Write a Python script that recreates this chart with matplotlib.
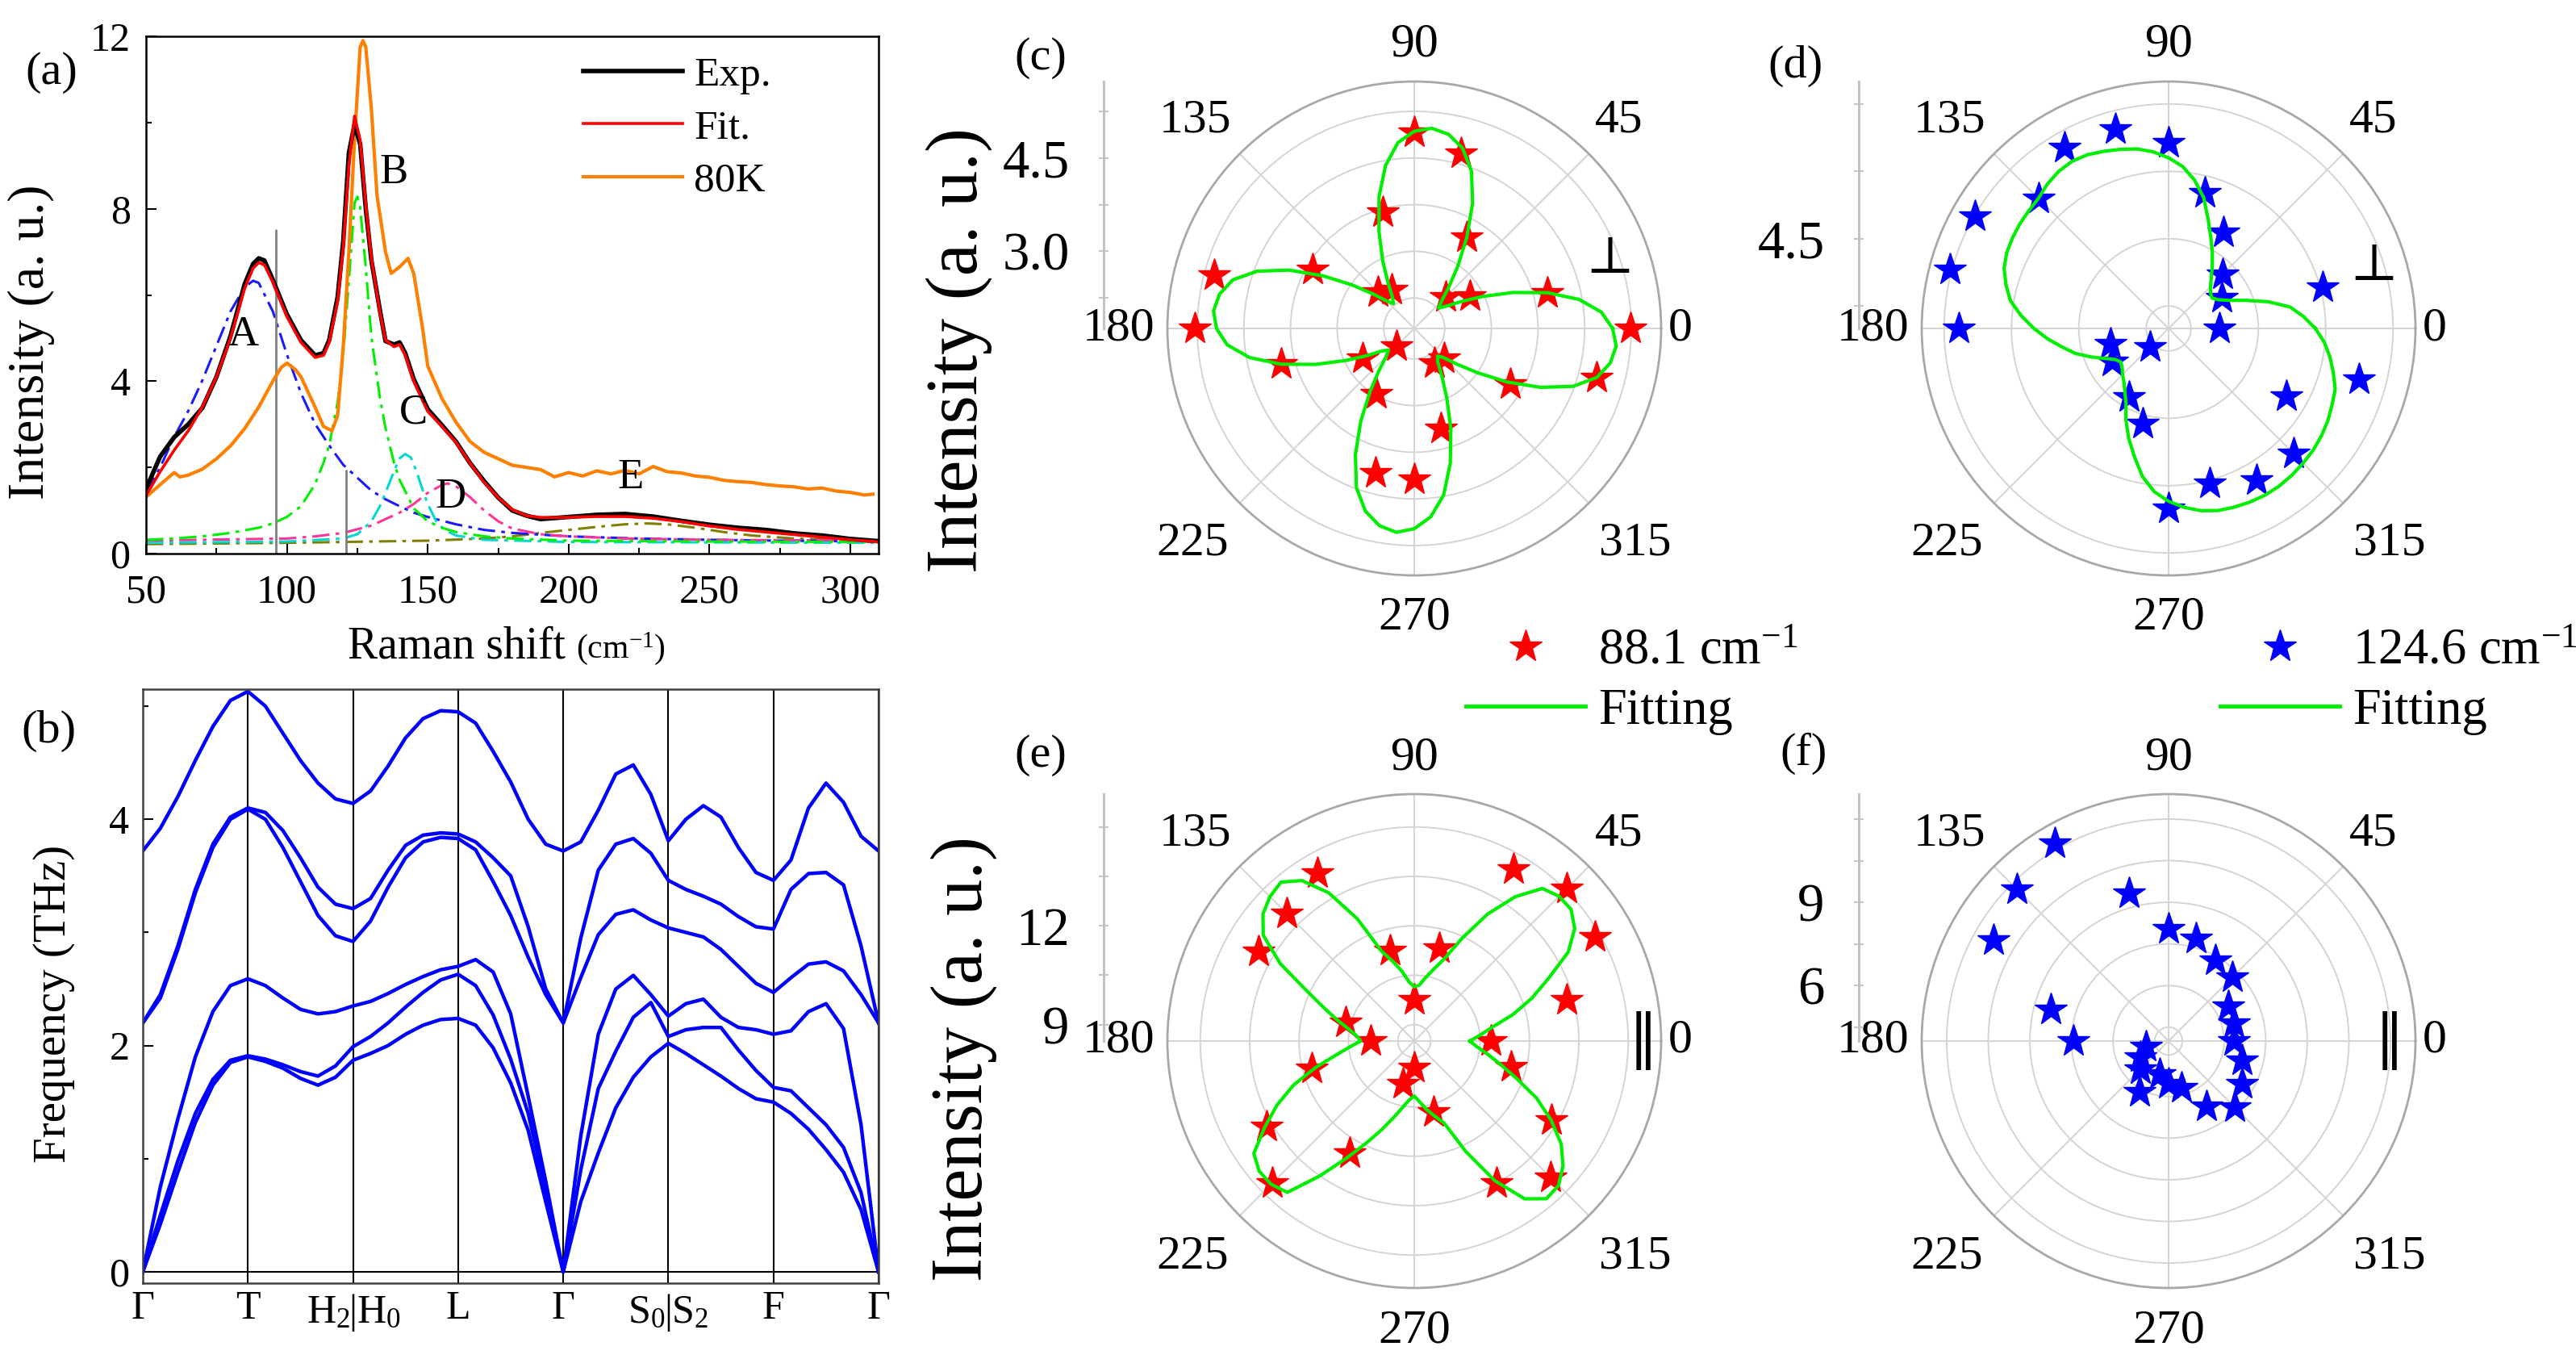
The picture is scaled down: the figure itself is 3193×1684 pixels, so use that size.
import numpy as np
import matplotlib
matplotlib.use('Agg')
import matplotlib.pyplot as plt
from matplotlib.lines import Line2D
from matplotlib.transforms import blended_transform_factory, offset_copy

plt.rcParams['font.family'] = ['Liberation Serif', 'DejaVu Serif']
plt.rcParams['mathtext.fontset'] = 'custom'
plt.rcParams['mathtext.rm'] = 'Liberation Serif'
plt.rcParams['mathtext.it'] = 'Liberation Serif:italic'

# --- (a) Raman spectra ---
raman_x = [50, 55, 60, 65, 70, 75, 80, 85, 88, 90, 92, 95, 100, 105, 110, 113, 115, 118, 120,
           122, 124, 126, 128, 130, 133, 135, 138, 140, 142, 145, 150, 155, 160, 165, 170, 175,
           180, 185, 190, 200, 210, 220, 230, 240, 250, 260, 270, 280, 290, 300, 310]
exp_y = [1.50, 2.25, 2.70, 3.00, 3.38, 4.10, 5.05, 6.25, 6.72, 6.85, 6.80, 6.35, 5.55, 4.95, 4.60,
         4.65, 4.95, 5.95, 7.25, 9.30, 9.95, 9.50, 8.00, 6.80, 5.65, 4.93, 4.85, 4.90, 4.65, 4.05,
         3.35, 2.98, 2.60, 2.10, 1.68, 1.30, 1.00, 0.88, 0.80, 0.85, 0.90, 0.92, 0.86, 0.76, 0.67,
         0.60, 0.55, 0.47, 0.42, 0.34, 0.29]
fit_y = [1.35, 1.90, 2.40, 2.85, 3.40, 4.10, 5.00, 6.15, 6.62, 6.75, 6.70, 6.30, 5.50, 4.90, 4.55,
         4.60, 4.90, 5.85, 7.10, 9.00, 10.15, 9.60, 8.10, 6.85, 5.60, 4.95, 4.80, 4.85, 4.60, 4.00,
         3.30, 2.95, 2.58, 2.10, 1.65, 1.30, 1.02, 0.88, 0.84, 0.84, 0.86, 0.86, 0.82, 0.74, 0.64,
         0.56, 0.50, 0.44, 0.38, 0.32, 0.27]
k80_x = [50, 55, 60, 62, 65, 70, 75, 80, 85, 90, 95, 98, 100, 103, 105, 110, 113, 116, 118, 120,
         122, 124, 126, 127, 128, 130, 132, 135, 137, 140, 143, 145, 148, 150, 155, 160, 165, 170,
         175, 180, 185, 190, 195, 200, 205, 210, 215, 220, 225, 230, 235, 240, 245, 250, 255, 260,
         265, 270, 275, 280, 285, 290, 295, 300, 305, 308]
k80_y = [1.31, 1.60, 1.88, 1.78, 1.82, 1.96, 2.20, 2.50, 2.90, 3.40, 4.00, 4.32, 4.42, 4.27, 4.10,
         3.40, 2.95, 2.85, 3.20, 4.80, 7.00, 9.60, 11.75, 11.90, 11.75, 10.30, 8.30, 7.00, 6.50,
         6.65, 6.85, 6.50, 5.30, 4.35, 3.60, 3.05, 2.60, 2.35, 2.20, 2.05, 2.00, 1.95, 1.78, 1.88,
         1.80, 1.92, 1.85, 1.93, 1.85, 2.02, 1.90, 1.87, 1.80, 1.77, 1.70, 1.67, 1.65, 1.60, 1.57,
         1.55, 1.50, 1.52, 1.45, 1.42, 1.36, 1.38]
pkA_x = [50, 55, 60, 65, 70, 75, 80, 85, 88, 90, 95, 100, 105, 110, 115, 120, 125, 130, 135, 140,
         145, 150, 160, 170, 180, 200, 225, 250, 275, 310]
pkA_y = [1.41, 2.00, 2.71, 3.31, 4.02, 4.82, 5.62, 6.18, 6.33, 6.28, 5.62, 4.62, 3.72, 3.01, 2.51,
         2.06, 1.76, 1.46, 1.26, 1.10, 0.95, 0.85, 0.68, 0.55, 0.48, 0.40, 0.35, 0.32, 0.30, 0.28]
pkB_x = [50, 60, 70, 80, 90, 95, 100, 105, 110, 113, 115, 118, 120, 122, 124, 125, 126, 128, 130,
         133, 135, 138, 140, 145, 150, 155, 160, 170, 180, 200, 250, 310]
pkB_y = [0.32, 0.35, 0.40, 0.48, 0.60, 0.70, 0.85, 1.10, 1.61, 2.11, 2.51, 3.51, 4.62, 6.33, 8.13,
         8.28, 8.03, 6.63, 5.02, 3.62, 2.91, 2.11, 1.71, 1.05, 0.75, 0.60, 0.50, 0.40, 0.35, 0.30,
         0.28, 0.27]
pkC_x = [50, 100, 120, 125, 130, 133, 135, 138, 140, 142, 144, 146, 148, 150, 153, 156, 160, 170,
         200, 310]
pkC_y = [0.25, 0.28, 0.35, 0.45, 0.75, 1.10, 1.41, 1.91, 2.21, 2.31, 2.23, 1.91, 1.51, 1.15, 0.75,
         0.55, 0.42, 0.32, 0.27, 0.25]
pkD_x = [50, 100, 110, 120, 130, 140, 145, 150, 155, 157, 160, 165, 170, 175, 180, 190, 200, 220,
         250, 310]
pkD_y = [0.30, 0.35, 0.40, 0.48, 0.65, 0.95, 1.15, 1.41, 1.59, 1.63, 1.56, 1.31, 1.00, 0.75, 0.58,
         0.45, 0.40, 0.35, 0.32, 0.30]
pkE_x = [50, 100, 150, 170, 180, 190, 200, 210, 220, 228, 235, 245, 255, 265, 280, 300, 310]
pkE_y = [0.22, 0.25, 0.30, 0.35, 0.40, 0.48, 0.55, 0.62, 0.68, 0.70, 0.68, 0.60, 0.50, 0.42, 0.35,
         0.30, 0.28]
mark_x = [96, 121]
mark_top = [7.53, 1.94]

# --- (b) phonon bands, 6 samples per path segment ---
hs_labels = ['Γ', 'T', '', 'L', 'Γ', '', 'F', 'Γ']
split_labels = [(2, 'H$_2$', 'H$_0$'), (5, 'S$_0$', 'S$_2$')]
hs_pos = [0, 1, 2, 3, 4, 5, 6, 7]
k_path = np.linspace(0, 7, 43)
band1 = [0, 0.42, 0.88, 1.32, 1.65, 1.85, 1.90, 1.86, 1.80, 1.71, 1.65, 1.72, 1.87, 1.93, 2.00,
         2.10, 2.18, 2.23, 2.24, 2.18, 1.98, 1.67, 1.25, 0.62, 0, 0.62, 1.05, 1.45, 1.72, 1.90,
         2.02, 1.93, 1.83, 1.73, 1.62, 1.53, 1.50, 1.40, 1.26, 1.08, 0.88, 0.55, 0]
band2 = [0, 0.50, 0.98, 1.40, 1.70, 1.87, 1.91, 1.88, 1.83, 1.77, 1.73, 1.82, 1.99, 2.08, 2.20,
         2.34, 2.47, 2.58, 2.63, 2.53, 2.27, 1.88, 1.40, 0.72, 0, 0.90, 1.62, 1.95, 2.25, 2.38,
         2.08, 2.14, 2.16, 2.16, 1.96, 1.78, 1.63, 1.60, 1.45, 1.30, 1.10, 0.70, 0]
band3 = [0, 0.75, 1.35, 1.90, 2.30, 2.53, 2.59, 2.53, 2.42, 2.32, 2.28, 2.30, 2.35, 2.39, 2.46,
         2.54, 2.61, 2.67, 2.70, 2.76, 2.65, 2.28, 1.55, 0.80, 0, 1.20, 2.10, 2.50, 2.62, 2.45,
         2.26, 2.37, 2.41, 2.25, 2.16, 2.14, 2.10, 2.13, 2.30, 2.37, 2.15, 1.30, 0]
band4 = [2.20, 2.42, 2.85, 3.35, 3.75, 4.00, 4.09, 4.00, 3.75, 3.45, 3.15, 2.97, 2.92, 3.10, 3.40,
         3.66, 3.80, 3.84, 3.83, 3.73, 3.45, 3.15, 2.78, 2.45, 2.20, 2.60, 2.98, 3.16, 3.20, 3.11,
         3.04, 3.00, 2.96, 2.85, 2.70, 2.55, 2.47, 2.60, 2.72, 2.74, 2.66, 2.45, 2.20]
band5 = [2.20, 2.45, 2.88, 3.38, 3.78, 4.02, 4.10, 4.06, 3.90, 3.66, 3.40, 3.25, 3.21, 3.30, 3.55,
         3.77, 3.86, 3.88, 3.87, 3.80, 3.66, 3.50, 3.05, 2.50, 2.20, 2.95, 3.55, 3.78, 3.83, 3.70,
         3.46, 3.38, 3.32, 3.25, 3.14, 3.05, 3.03, 3.38, 3.52, 3.53, 3.42, 2.88, 2.20]
band6 = [3.72, 3.92, 4.20, 4.52, 4.82, 5.05, 5.13, 5.00, 4.76, 4.52, 4.32, 4.18, 4.14, 4.25, 4.47,
         4.72, 4.89, 4.96, 4.95, 4.85, 4.60, 4.33, 4.00, 3.78, 3.72, 3.80, 4.08, 4.40, 4.48, 4.22,
         3.81, 4.00, 4.12, 4.02, 3.75, 3.53, 3.46, 3.64, 4.10, 4.32, 4.15, 3.85, 3.72]

# --- (c)-(f) polarized intensities ---
star_deg = np.arange(0, 360, 15)
fit_deg = np.arange(0, 360, 5)
c_r = [5.24, 3.97, 2.80, 2.47, 3.45, 4.68, 4.91, 3.70, 2.48, 2.58, 3.65, 5.09,
       5.29, 3.98, 2.72, 2.16, 2.98, 4.17, 4.19, 3.42, 2.41, 2.44, 3.55, 4.80]
c_fit = [4.95, 4.78, 4.45, 3.98, 3.45, 2.98, 2.62, 2.38, 2.27, 2.38, 2.62, 2.98,
         3.45, 3.98, 4.45, 4.76, 4.93, 4.99, 4.93, 4.76, 4.42, 3.95, 3.42, 2.96,
         2.60, 2.37, 2.28, 2.38, 2.62, 2.98, 3.45, 3.98, 4.45, 4.78, 4.94, 5.00,
         4.94, 4.78, 4.45, 3.98, 3.45, 2.98, 2.63, 2.39, 2.30, 2.40, 2.64, 3.00,
         3.48, 4.00, 4.48, 4.80, 4.98, 5.05, 4.98, 4.80, 4.48, 4.00, 3.48, 3.00,
         2.65, 2.42, 2.34, 2.42, 2.65, 3.00, 3.48, 4.00, 4.48, 4.80, 4.96, 5.02]
d_r = [3.63, 6.05, 3.88, 4.21, 4.96, 5.63, 6.64, 7.09, 7.14, 6.58, 7.48, 7.55,
       7.17, 3.84, 3.96, 3.09, 4.27, 4.69, 6.50, 6.07, 6.41, 6.45, 5.53, 6.90]
d_fit = [5.77, 5.52, 5.25, 4.80, 4.33, 3.98, 3.78, 3.68, 3.72, 3.82, 3.98, 4.20,
         4.45, 4.73, 5.08, 5.52, 5.85, 6.12, 6.30, 6.45, 6.56, 6.63, 6.70, 6.77,
         6.80, 6.77, 6.70, 6.60, 6.57, 6.55, 6.52, 6.48, 6.40, 6.25, 6.08, 5.80,
         5.50, 5.20, 4.90, 4.65, 4.35, 4.08, 3.88, 3.80, 3.85, 3.95, 4.05, 4.20,
         4.40, 4.75, 5.10, 5.45, 5.85, 6.15, 6.35, 6.50, 6.62, 6.70, 6.74, 6.77,
         6.79, 6.79, 6.77, 6.74, 6.71, 6.66, 6.60, 6.52, 6.45, 6.30, 6.15, 5.98]
e_r = [10.82, 13.30, 14.83, 15.05, 14.52, 11.42, 9.74, 11.35, 14.39, 13.97, 13.96, 10.66,
       9.83, 11.72, 13.68, 14.61, 12.42, 9.85, 9.30, 10.74, 13.48, 14.36, 13.31, 11.55]
e_fit = [10.19, 10.50, 10.90, 11.60, 12.30, 13.00, 13.90, 14.45, 14.72, 14.72, 14.55, 13.85,
         12.95, 11.95, 11.15, 10.75, 10.45, 10.20, 10.15, 10.30, 10.65, 11.00, 11.40, 12.60,
         13.70, 14.45, 14.80, 14.70, 14.50, 14.10, 13.20, 12.10, 11.40, 10.90, 10.50, 10.25,
         10.13, 10.45, 10.90, 11.60, 12.40, 13.10, 13.75, 14.45, 14.65, 14.65, 14.50, 13.50,
         12.60, 11.90, 11.35, 10.90, 10.55, 10.30, 10.17, 10.35, 10.60, 10.85, 11.15, 12.20,
         13.40, 14.35, 14.75, 14.70, 14.40, 13.95, 13.30, 12.60, 11.80, 11.20, 10.75, 10.40]
f_r = [6.35, 6.44, 6.49, 7.24, 7.35, 7.83, 8.05, 9.52, 12.22, 11.75, 11.29, 8.41,
       7.42, 4.83, 5.18, 5.45, 6.11, 5.23, 5.55, 5.76, 6.73, 7.39, 7.06, 6.74]

W, H = 3193, 1684
fig = plt.figure(figsize=(W / 100, H / 100), dpi=100)


def fx(px):
    return px / W


def fy(py):
    return 1 - py / H


GREEN = '#00ee00'

# ================= (a) =================
ax = fig.add_axes([fx(181), fy(686), 908 / W, 641 / H])
dd = (0, (7, 2.5, 1.5, 2.5))
ax.plot(pkE_x, pkE_y, color='#808000', lw=2.2, ls=dd)
ax.plot(pkA_x, pkA_y, color='#1a1aff', lw=2.2, ls=dd)
ax.plot(pkD_x, pkD_y, color='#ff3399', lw=2.2, ls=dd)
ax.plot(pkC_x, pkC_y, color='#00d8d0', lw=2.2, ls=dd)
ax.plot(pkB_x, pkB_y, color='#00f000', lw=2.2, ls=dd)
ax.vlines(mark_x, 0, mark_top, color='#808080', lw=2)
ax.plot(k80_x, k80_y, color='#ff8000', lw=3, label='80K')
ax.plot(raman_x, exp_y, color='black', lw=4, label='Exp.')
ax.plot(raman_x, fit_y, color='#ff0000', lw=2.6, label='Fit.')
ax.set_xlim(50, 310)
ax.set_ylim(0, 12)
ax.set_xticks([50, 100, 150, 200, 250, 300])
ax.set_xticks([75, 125, 175, 225, 275], minor=True)
ax.set_yticks([0, 4, 8, 12])
ax.set_yticks([2, 6, 10], minor=True)
ax.tick_params(which='both', direction='in', labelsize=36, width=1.5)
ax.tick_params(which='major', length=9)
ax.tick_params(which='minor', length=5)
ax.tick_params(axis='x', pad=18)
ax.tick_params(axis='y', pad=14)
for s in ax.spines.values():
    s.set_linewidth(1.8)
for lab, xx, yy in [('A', 84.5, 5.07), ('B', 138, 8.84), ('C', 145, 3.26),
                    ('D', 158, 1.31), ('E', 222, 1.76)]:
    ax.text(xx, yy, lab, fontsize=38, ha='center', va='center')
h, l = ax.get_legend_handles_labels()
order = [1, 2, 0]
ax.legend([h[i] for i in order], [l[i] for i in order], loc='upper left',
          bbox_to_anchor=(fx(723), fy(70)), bbox_transform=fig.transFigure,
          frameon=False, fontsize=37, handlelength=2.4, handletextpad=0.27,
          labelspacing=0.36, borderpad=0, borderaxespad=0)
fig.text(fx(39), fy(424), 'Intensity (a. u.)', rotation=90, fontsize=46,
         ha='center', va='center')
fig.text(fx(701), fy(815), 'Raman shift', fontsize=40, ha='right', va='baseline')
fig.text(fx(714), fy(815), '(cm$^{-1}$)', fontsize=30, ha='left', va='baseline')
fig.text(fx(64), fy(90), '(a)', fontsize=42, ha='center', va='center')

# ================= (b) =================
axb = fig.add_axes([fx(177), fy(1590), 912 / W, 736 / H])
for xv in hs_pos:
    axb.axvline(xv, color='black', lw=1.5)
axb.axhline(0, color='black', lw=1.5)
for bnd in [band1, band2, band3, band4, band5, band6]:
    axb.plot(k_path, bnd, color='#0000ff', lw=3.2, solid_joinstyle='round')
axb.set_xlim(0, 7)
axb.set_ylim(-0.1, 5.15)
axb.set_xticks(hs_pos)
axb.set_xticklabels(hs_labels)
axb.set_yticks([0, 2, 4])
axb.set_yticks([1, 3, 5], minor=True)
axb.tick_params(axis='x', length=0, labelsize=36, pad=6)
axb.tick_params(axis='y', which='both', direction='in', labelsize=36, pad=12, width=1.5)
axb.tick_params(axis='y', which='major', length=9)
axb.tick_params(axis='y', which='minor', length=5)
for s in axb.spines.values():
    s.set_linewidth(1.8)
    s.set_color('#404040')
# split labels: the bar sits on the path line
tb = blended_transform_factory(axb.transData, axb.transAxes)
for xv, left, right in split_labels:
    axb.text(xv, -0.018, '|', transform=tb, fontsize=36, ha='center', va='top')
    axb.text(xv, -0.018, left, transform=offset_copy(tb, fig, x=-4, units='dots'),
             fontsize=36, ha='right', va='top')
    axb.text(xv, -0.018, right, transform=offset_copy(tb, fig, x=4, units='dots'),
             fontsize=36, ha='left', va='top')
fig.text(fx(67), fy(1244), 'Frequency (THz)', rotation=90, fontsize=41,
         ha='center', va='center')
fig.text(fx(60), fy(906), '(b)', fontsize=42, ha='center', va='center')

# ================= polar panels =================
R = 306
ang_offsets = {0: (330, 0), 45: (254, 257), 90: (0, 351), 135: (-271, 257),
               180: (-366, 0), 225: (-275, -267), 270: (0, -359), 315: (274, -267)}


def polar_panel(cx, cy, rlo, rhi, rings, stars, color, fit=None):
    axp = fig.add_axes([fx(cx - R), fy(cy + R), 2 * R / W, 2 * R / H], projection='polar')
    axp.set_rlim(rlo, rhi)
    axp.set_thetagrids(range(0, 360, 45), labels=[''] * 8)
    axp.set_rgrids(rings, labels=[''] * len(rings))
    axp.grid(True, color='#d4d4d4', lw=1.4)
    axp.spines['polar'].set_color('#a8a8a8')
    axp.spines['polar'].set_linewidth(2)
    axp.tick_params(length=0)
    axp.plot(np.deg2rad(star_deg), stars, ls='none', marker='*', ms=30,
             color=color, mec=color, clip_on=False, zorder=3)
    if fit is not None:
        th = np.deg2rad(np.append(fit_deg, 360))
        axp.plot(th, fit + fit[:1], color=GREEN, lw=3, zorder=4)
    for ang, (dx, dy) in ang_offsets.items():
        axp.text(0.5 + dx / (2 * R), 0.5 + dy / (2 * R), str(ang), transform=axp.transAxes,
                 fontsize=43, ha='center', va='center')
    return axp


def radial_scale(x_px, cy, rlo, rhi, major, labels, minor):
    sax = fig.add_axes([fx(x_px), fy(cy), 0.0004, R / H])
    sax.set_ylim(rlo, rhi)
    sax.patch.set_visible(False)
    for s in ['top', 'right', 'bottom']:
        sax.spines[s].set_visible(False)
    sax.spines['left'].set_color('#c4c4c4')
    sax.spines['left'].set_linewidth(2.2)
    sax.set_xticks([])
    sax.set_yticks(major)
    sax.set_yticklabels(labels)
    sax.set_yticks(minor, minor=True)
    sax.tick_params(axis='y', which='both', direction='inout', length=9, width=1.5,
                    color='#c4c4c4', labelsize=48, pad=26)


# (c)
polar_panel(1753, 407, 1.76, 5.73, [2.25, 3.0, 3.75, 4.5, 5.25], c_r, '#ff0000', c_fit)
radial_scale(1368, 407, 1.76, 5.73, [3.0, 4.5], ['3.0', '4.5'], [2.25, 3.75, 5.25])
fig.text(fx(1995), fy(320), '⊥', fontsize=46, ha='center', va='center',
         family=['DejaVu Serif'])
fig.text(fx(1290), fy(72), '(c)', fontsize=42, ha='center', va='center')
fig.text(fx(1189), fy(434), 'Intensity (a. u.)', rotation=90, fontsize=65,
         ha='center', va='center')

# (d)
polar_panel(2688, 407, 2.5, 8.0, [3.0, 4.5, 6.0, 7.5], d_r, '#0000ff', d_fit)
radial_scale(2304, 407, 2.5, 8.0, [4.5], ['4.5'], [3.0, 6.0, 7.5])
fig.text(fx(2942), fy(329), '⊥', fontsize=46, ha='center', va='center',
         family=['DejaVu Serif'])
fig.text(fx(2226), fy(82), '(d)', fontsize=42, ha='center', va='center')

# (e)
polar_panel(1753, 1290, 8.5, 16.0, [9, 10.5, 12, 13.5, 15], e_r, '#ff0000', e_fit)
radial_scale(1368, 1290, 8.5, 16.0, [9, 12], ['9', '12'], [10.5, 13.5, 15])
fig.text(fx(2037), fy(1290), '‖', fontsize=52, ha='center', va='center',
         family=['DejaVu Serif'])
fig.text(fx(1290), fy(936), '(e)', fontsize=42, ha='center', va='center')
fig.text(fx(1195), fy(1312), 'Intensity (a. u.)', rotation=90, fontsize=65,
         ha='center', va='center')

# (f)
polar_panel(2688, 1290, 4.0, 12.9, [4.5, 6, 7.5, 9, 10.5, 12], f_r, '#0000ff')
radial_scale(2304, 1290, 4.0, 12.9, [6, 9], ['6', '9'], [4.5, 7.5, 10.5, 12])
fig.text(fx(2962), fy(1290), '‖', fontsize=52, ha='center', va='center',
         family=['DejaVu Serif'])
fig.text(fx(2236), fy(934), '(f)', fontsize=42, ha='center', va='center')

# legends for (c) and (d)
for x0, col, lab in [(1817, '#ff0000', '88.1 cm$^{-1}$'), (2752, '#0000ff', '124.6 cm$^{-1}$')]:
    hs = Line2D([], [], ls='none', marker='*', ms=30, color=col)
    hf = Line2D([], [], color=GREEN, lw=3.5)
    fig.legend([hs, hf], [lab, 'Fitting'], loc='upper left', bbox_to_anchor=(fx(x0), fy(779)),
               frameon=False, fontsize=45, handlelength=2.37, handletextpad=0.26,
               labelspacing=0.26, borderpad=0, borderaxespad=0)

fig.savefig('out.png', dpi=100)
